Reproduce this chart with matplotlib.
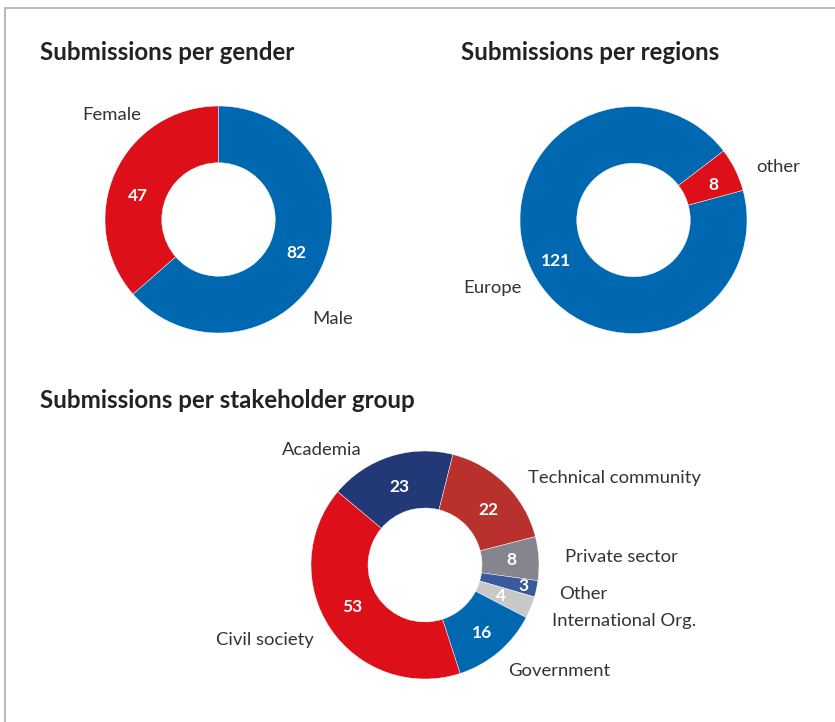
import numpy as np
import matplotlib
matplotlib.use("Agg")
import matplotlib.pyplot as plt

# Data
# -----------------
gender_labels = ["Female", "Male"]
gender_values = [47, 82]
gender_colors = ["#DD0F19", "#0067B1"]

region_labels = ["Europe", "other"]
region_values = [121, 8]
region_colors = ["#0067B1", "#DD0F19"]

group_labels = ["Academia", "Technical community", "Private sector", "Other",
                "International Org.", "Government", "Civil society"]
group_values = [23, 22, 8, 3, 4, 16, 53]
group_colors = ["#233876", "#B8312D", "#85858D", "#3A5A9C", "#C8C8C8",
                "#0067B1", "#DD0F19"]

W, H = 835, 722
FONT = "Lato"
TXT = "#333333"

fig = plt.figure(figsize=(W / 100, H / 100), dpi=100)


def donut_axes(cx, cy, r):
    # axes placed in pixels, pie radius = 1
    ax = fig.add_axes([(cx - r) / W, (H - cy - r) / H, 2 * r / W, 2 * r / H])
    return ax


def donut(ax, values, colors, start, counterclock, val_r, val_sh, lab_r, lab_sh, labels, ha_list):
    wedges, _ = ax.pie(values, colors=colors, startangle=start,
                       counterclock=counterclock, radius=1,
                       wedgeprops=dict(width=0.5, edgecolor="white", linewidth=0.3))
    # pie resets the limits, so set them afterwards
    ax.set_xlim(-1, 1)
    ax.set_ylim(-1, 1)
    ax.set_aspect("equal")
    ax.axis("off")
    for i, w in enumerate(wedges):
        mid = (w.theta1 + w.theta2) / 2
        va_ang = np.deg2rad(mid + val_sh[i])
        ax.text(val_r[i] * np.cos(va_ang), val_r[i] * np.sin(va_ang), str(values[i]),
                color="white", fontsize=12.5, fontweight="bold", family=FONT,
                ha="center", va="center")
        la = np.deg2rad(mid + lab_sh[i])
        ax.text(lab_r[i] * np.cos(la), lab_r[i] * np.sin(la), labels[i], color=TXT,
                fontsize=13.3, family=FONT, ha=ha_list[i], va="center", clip_on=False)
    return wedges


# gender
ax1 = donut_axes(218.5, 219.5, 113.5)
donut(ax1, gender_values, gender_colors, 90, True,
      [0.74, 0.75], [8, 1], [1.32, 1.33], [-20, -16.6],
      gender_labels, ["center", "center"])

# regions
ax2 = donut_axes(633.5, 220, 113.5)
donut(ax2, region_values, region_colors, 37.5, True,
      [0.77, 0.77], [1.5, -2.5], [1.38, 1.18], [-0.7, -3],
      region_labels, ["center", "left"])

# stakeholder groups
ax3 = donut_axes(425, 565, 114)
donut(ax3, group_values, group_colors, 140, False,
      [0.72, 0.74, 0.76, 0.88, 0.72, 0.78, 0.74],
      [0, -4, 0, 0, 0, 0, -4],
      [1.35, 1.18, 1.23, 1.2, 1.22, 1.18, 1.18],
      [24, -5, 0, 0, -2, -2, 0],
      group_labels, ["center", "left", "left", "left", "left", "left", "right"])

# titles
title_kw = dict(fontsize=17.4, fontweight="bold", family=FONT, color="#222222", va="center")
fig.text(40 / W, 1 - 52 / H, "Submissions per gender", **title_kw)
fig.text(461 / W, 1 - 52 / H, "Submissions per regions", **title_kw)
fig.text(40 / W, 1 - 400 / H, "Submissions per stakeholder group", **title_kw)

# frame lines
fig.add_artist(plt.Line2D([4.5 / W, 4.5 / W], [0, 1 - 7.5 / H], color="#BBBBBB", lw=1.5))
fig.add_artist(plt.Line2D([4.5 / W, 1], [1 - 7.5 / H, 1 - 7.5 / H], color="#BBBBBB", lw=1.5))

fig.savefig("out.png", dpi=100)
